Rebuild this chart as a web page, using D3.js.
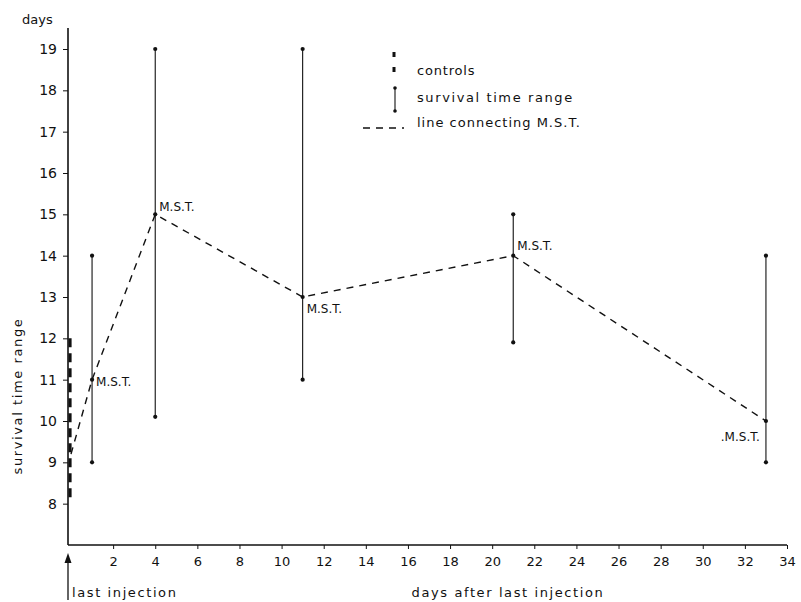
<!DOCTYPE html>
<html><head><meta charset="utf-8">
<script src="https://cdn.jsdelivr.net/npm/d3@7"></script>
<style>body{margin:0;background:#fff}text{font-family:"DejaVu Sans",sans-serif;fill:#111}</style>
</head><body>
<svg id="c" width="801" height="602"></svg>
<script>
// Data
const days = [1, 4, 11, 21, 33];
const rangeLow = [9, 10.1, 11, 11.9, 9];
const rangeHigh = [14, 19, 19, 15, 14];
const mst = [11, 15, 13, 14, 10];
const controlDay = 0;
const controlLow = 8;
const controlHigh = 12;
const controlMst = 9.2;
const xTicks = [2,4,6,8,10,12,14,16,18,20,22,24,26,28,30,32,34];
const yTicks = [8,9,10,11,12,13,14,15,16,17,18,19];
const labelSide = ["right","right","right","right","left"];

const svg = d3.select("#c");
const ink = "#111";
const x = d3.scaleLinear().domain([0, 34]).range([71, 787]);
const y = d3.scaleLinear().domain([7, 19]).range([545, 49]);

// axes
const xAxis = d3.axisBottom(x).tickValues(xTicks).tickSize(4).tickPadding(8).tickFormat(d3.format("d"));
const gx = svg.append("g").attr("transform", "translate(0,545)").call(xAxis);
gx.select(".domain").remove();
gx.append("line").attr("x1", 68).attr("x2", 787).attr("y1", 0).attr("y2", 0).attr("stroke", ink).attr("stroke-width", 1.6);
gx.selectAll(".tick line").attr("stroke", ink);
gx.selectAll(".tick text").attr("font-size", 13).style("fill", ink);

const yAxis = d3.axisLeft(y).tickValues(yTicks).tickSize(5).tickPadding(6).tickFormat(d3.format("d"));
const gy = svg.append("g").attr("transform", "translate(68,0)").call(yAxis);
gy.select(".domain").remove();
gy.append("line").attr("x1", 0).attr("x2", 0).attr("y1", 28).attr("y2", 545).attr("stroke", ink).attr("stroke-width", 1.6);
gy.selectAll(".tick line").attr("stroke", ink);
gy.selectAll(".tick text").attr("font-size", 14).style("fill", ink);

svg.append("text").attr("x", 22).attr("y", 24).attr("font-size", 13).text("days");

// y title
svg.append("text").attr("transform", "translate(22,396) rotate(-90)").attr("text-anchor", "middle")
  .attr("font-size", 13).attr("letter-spacing", 1.6).text("survival time range");

// x title
svg.append("text").attr("x", 508).attr("y", 597).attr("text-anchor", "middle")
  .attr("font-size", 13).attr("letter-spacing", 1.6).text("days after last injection");

// last injection arrow
svg.append("line").attr("x1", 68).attr("x2", 68).attr("y1", 600).attr("y2", 558).attr("stroke", ink).attr("stroke-width", 1.3);
svg.append("path").attr("d", "M68,553 L64.5,563 L71.5,563 Z").attr("fill", ink);
svg.append("text").attr("x", 72).attr("y", 597).attr("font-size", 13).attr("letter-spacing", 1.6).text("last injection");

// controls bar
svg.append("line").attr("x1", x(controlDay) - 1).attr("x2", x(controlDay) - 1)
  .attr("y1", y(controlHigh)).attr("y2", y(controlLow) - 2)
  .attr("stroke", ink).attr("stroke-width", 3.2).attr("stroke-dasharray", "9,6");

// range bars
const g = svg.append("g");
days.forEach((d, i) => {
  g.append("line").attr("x1", x(d)).attr("x2", x(d)).attr("y1", y(rangeLow[i])).attr("y2", y(rangeHigh[i]))
    .attr("stroke", ink).attr("stroke-width", 1.1);
  [rangeLow[i], rangeHigh[i], mst[i]].forEach(v => {
    g.append("circle").attr("cx", x(d)).attr("cy", y(v)).attr("r", 2.1).attr("fill", ink);
  });
});

// MST line
const pts = [[controlDay, controlMst]].concat(days.map((d, i) => [d, mst[i]]));
svg.append("path").attr("d", d3.line().x(p => x(p[0])).y(p => y(p[1]))(pts))
  .attr("fill", "none").attr("stroke", ink).attr("stroke-width", 1.4).attr("stroke-dasharray", "7,6");

// MST labels
days.forEach((d, i) => {
  const right = labelSide[i] === "right";
  svg.append("text").attr("x", right ? x(d) + 4 : x(d) - 6).attr("y", y(mst[i]) + (i === 1 ? -3 : i === 3 ? -6 : i === 4 ? 20 : 6) + (i === 2 ? 10 : 0))
    .attr("text-anchor", right ? "start" : "end").attr("font-size", 12).text((right ? "" : ".") + "M.S.T.");
});

// legend
const lx = 394;
svg.append("line").attr("x1", lx).attr("x2", lx).attr("y1", 52).attr("y2", 74)
  .attr("stroke", ink).attr("stroke-width", 3).attr("stroke-dasharray", "5,10");
svg.append("text").attr("x", 417).attr("y", 75).attr("font-size", 13).attr("letter-spacing", 0.8).text("controls");
svg.append("line").attr("x1", lx + 1).attr("x2", lx + 1).attr("y1", 88).attr("y2", 111).attr("stroke", ink).attr("stroke-width", 1.1);
svg.append("circle").attr("cx", lx + 1).attr("cy", 88).attr("r", 1.8).attr("fill", ink);
svg.append("circle").attr("cx", lx + 1).attr("cy", 111).attr("r", 1.8).attr("fill", ink);
svg.append("text").attr("x", 417).attr("y", 102).attr("font-size", 13).attr("letter-spacing", 1.6).text("survival time range");
svg.append("line").attr("x1", 363).attr("x2", 404).attr("y1", 128).attr("y2", 128)
  .attr("stroke", ink).attr("stroke-width", 1.4).attr("stroke-dasharray", "7,6");
svg.append("text").attr("x", 417).attr("y", 127).attr("font-size", 13).attr("letter-spacing", 1).text("line connecting M.S.T.");
</script>
</body></html>
